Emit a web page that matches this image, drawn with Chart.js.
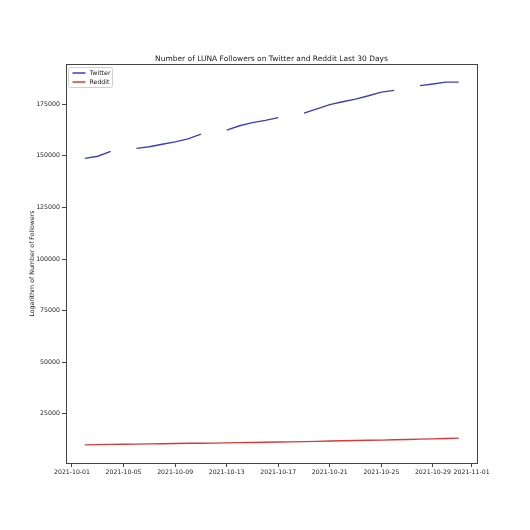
<!DOCTYPE html>
<html>
<head>
<meta charset="utf-8">
<script src="https://cdn.jsdelivr.net/npm/chart.js@4/dist/chart.umd.min.js"></script>
<style>
html,body{margin:0;padding:0;background:#fff;}
canvas{display:block;}
</style>
</head>
<body>
<canvas id="c" width="530" height="530"></canvas>
<script>
const dates = ['2021-10-02','2021-10-03','2021-10-04','2021-10-05','2021-10-06','2021-10-07','2021-10-08','2021-10-09','2021-10-10','2021-10-11','2021-10-12','2021-10-13','2021-10-14','2021-10-15','2021-10-16','2021-10-17','2021-10-18','2021-10-19','2021-10-20','2021-10-21','2021-10-22','2021-10-23','2021-10-24','2021-10-25','2021-10-26','2021-10-27','2021-10-28','2021-10-29','2021-10-30','2021-10-31'];
const twitter = [148800,149800,152200,null,153600,154400,155600,156800,158200,160500,null,162500,164600,166100,167200,168500,null,170700,172800,174800,176200,177500,179100,180900,181700,null,184000,184800,185700,185700];
const reddit = [10000,10100,10200,10300,10350,10450,10550,10650,10750,10800,10850,10950,11050,11150,11250,11350,11450,11550,11700,11850,12000,12100,12200,12300,12450,12600,12750,12900,13050,13250];
const xTickLabels = ['2021-10-01','2021-10-05','2021-10-09','2021-10-13','2021-10-17','2021-10-21','2021-10-25','2021-10-29','2021-11-01'];
const yTicks = [25000,50000,75000,100000,125000,150000,175000];

const base = Date.parse('2021-09-30');
const dayOf = d => (Date.parse(d) - base) / 86400000;
const xTickValues = xTickLabels.map(dayOf);

const twData = dates.map((d,i)=>({x:dayOf(d), y:twitter[i]}));
const rdData = dates.map((d,i)=>({x:dayOf(d), y:reddit[i]}));

const TXT = '#222';
const AX = '#444';
const FONT = 'DejaVu Sans';

function roundRect(ctx,x,y,w,h,r){
  ctx.beginPath();
  ctx.moveTo(x+r,y); ctx.lineTo(x+w-r,y); ctx.quadraticCurveTo(x+w,y,x+w,y+r);
  ctx.lineTo(x+w,y+h-r); ctx.quadraticCurveTo(x+w,y+h,x+w-r,y+h);
  ctx.lineTo(x+r,y+h); ctx.quadraticCurveTo(x,y+h,x,y+h-r);
  ctx.lineTo(x,y+r); ctx.quadraticCurveTo(x,y,x+r,y); ctx.closePath();
}

const framePlugin = {
  id:'frame',
  afterLayout(chart){
    const t = chart.titleBlock, a = chart.chartArea;
    if (t && a) { t.left = a.left; t.right = a.right; t.width = a.right - a.left; }
  },
  afterDraw(chart){
    const a = chart.chartArea, ctx = chart.ctx;
    ctx.save();
    ctx.strokeStyle = AX; ctx.lineWidth = 1;
    ctx.strokeRect(Math.round(a.left)+0.5, Math.round(a.top)+0.5, Math.round(a.right-a.left), Math.round(a.bottom-a.top));
    const bx = a.left + 2.5, by = a.top + 3.5, bw = 44, bh = 20;
    ctx.fillStyle = 'rgba(255,255,255,0.85)';
    roundRect(ctx,bx,by,bw,bh,2); ctx.fill();
    ctx.strokeStyle = '#d0d0d0'; ctx.stroke();
    ctx.font = '6.25px "' + FONT + '"';
    ctx.textBaseline = 'middle';
    chart.data.datasets.forEach((ds,i)=>{
      const y = by + 5.5 + i*9;
      ctx.strokeStyle = ds.borderColor; ctx.lineWidth = 1.5;
      ctx.beginPath(); ctx.moveTo(bx+4, y); ctx.lineTo(bx+17, y); ctx.stroke();
      ctx.fillStyle = TXT; ctx.fillText(ds.label, bx+21, y);
    });
    ctx.restore();
  }
};

new Chart(document.getElementById('c'), {
  type:'line',
  data:{
    datasets:[
      {label:'Twitter', data:twData, borderColor:'#3f3fb5', backgroundColor:'#3f3fb5', borderWidth:1.4, pointRadius:0, tension:0, spanGaps:false},
      {label:'Reddit', data:rdData, borderColor:'#d23c3c', backgroundColor:'#d23c3c', borderWidth:1.4, pointRadius:0, tension:0}
    ]
  },
  options:{
    responsive:false,
    devicePixelRatio:1,
    animation:false,
    layout:{padding:{left:0,right:53,top:55,bottom:0}},
    plugins:{
      title:{display:true, text:'Number of LUNA Followers on Twitter and Reddit Last 30 Days', color:TXT, font:{family:FONT,size:7.5,weight:'normal'}, padding:{top:0,bottom:0}},
      legend:{display:false},
      tooltip:{enabled:false}
    },
    scales:{
      x:{type:'linear', min:0.535, max:32.42,
        afterBuildTicks(s){ s.ticks = xTickValues.map(v=>({value:v})); },
        afterFit(s){ s.height = 67; },
        ticks:{color:TXT, font:{family:FONT,size:6.2}, padding:2, maxRotation:0, autoSkip:false,
          callback(v){ const i = xTickValues.indexOf(v); return i>=0 ? xTickLabels[i] : ''; }},
        grid:{display:true, drawOnChartArea:false, tickLength:4, color:AX},
        border:{display:true, color:AX}
      },
      y:{type:'linear', min:1200, max:194500,
        afterBuildTicks(s){ s.ticks = yTicks.map(v=>({value:v})); },
        afterFit(s){ s.width = 66; },
        ticks:{color:TXT, font:{family:FONT,size:6.25}, padding:2, callback(v){ return String(v); }},
        grid:{display:true, drawOnChartArea:false, tickLength:4, color:AX},
        border:{display:true, color:AX},
        title:{display:true, text:'Logarithm of Number of Followers', color:TXT, font:{family:FONT,size:6.25}, padding:{top:29,bottom:0}}
      }
    }
  },
  plugins:[framePlugin]
});
</script>
</body>
</html>
